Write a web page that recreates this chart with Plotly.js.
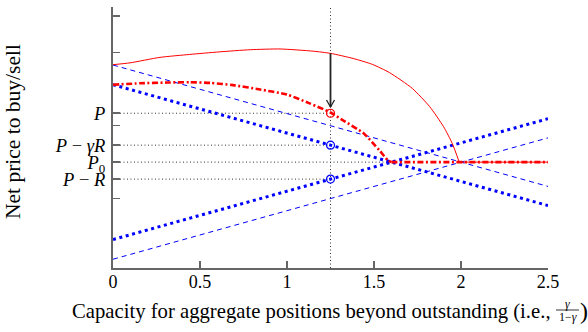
<!DOCTYPE html>
<html>
<head>
<meta charset="utf-8">
<script src="https://cdn.plot.ly/plotly-3.0.1.min.js"></script>
<style>html,body{margin:0;padding:0;background:#fff;}#chart{width:588px;height:332px;}</style>
</head>
<body>
<div id="chart"></div>
<script>
// ---- data (y in units relative to P0) ----
const xLine = [0, 2.5];
const yDashDown = [2.66, -0.665];
const yDashUp = [-2.66, 0.665];
const yDotDown = [2.12, -1.19];
const yDotUp = [-2.12, 1.19];

const xSolid = [0, 0.098, 0.27, 0.44, 0.61, 0.79, 0.96, 1.15, 1.25, 1.38, 1.49, 1.59, 1.72, 1.82, 1.90, 1.95, 1.99];
const ySolid = [2.67, 2.72, 2.87, 2.95, 3.02, 3.08, 3.10, 3.04, 2.98, 2.84, 2.68, 2.45, 2.02, 1.52, 0.97, 0.51, 0.0];
const xSolidFlat = [1.99, 2.5];
const ySolidFlat = [0, 0];

const xDashDot = [0, 0.155, 0.31, 0.44, 0.56, 0.69, 0.845, 1.0, 1.13, 1.25, 1.32, 1.44, 1.53, 1.58, 1.6];
const yDashDot = [2.12, 2.16, 2.18, 2.19, 2.17, 2.11, 1.99, 1.85, 1.61, 1.36, 1.15, 0.79, 0.33, 0.05, 0.0];
const xDashDotFlat = [1.6, 2.5];
const yDashDotFlat = [0, 0];

const xStar = 1.25;
const xCross = 1.6;
const P = 1.34, PgR = 0.465, P0 = 0, PR = -0.465;
const arrowTail = 2.98, arrowHead = 1.51;

const plainTicks = [4, 3, 1, -1];
const labelTicks = [P, PgR, P0, PR];
const labelText = ['<i>P</i>', '<i>P</i> − <i>γR</i>', '<i>P</i><sub>0</sub>', '<i>P</i> − <i>R</i>'];
const xTicks = [0, 0.5, 1, 1.5, 2, 2.5];
const xTickText = ['0', '0.5', '1', '1.5', '2', '2.5'];

const xTitleText = 'Capacity for aggregate positions beyond outstanding (i.e.,';
const yTitleText = 'Net price to buy/sell';

// ---- geometry helpers ----
const W = 588, H = 332, L = 113, R = 40, T = 7, B = 64;
const pw = W - L - R, ph = H - T - B;
const px = v => (v - L) / pw;
const py = v => (H - B - v) / ph;
const ux = 2.5 / pw, uy = 7.15 / ph;

const FONT = 'Liberation Serif';
function fitSize(text, target) {
  const c = document.createElement('canvas').getContext('2d');
  c.font = '100px "' + FONT + '"';
  return 100 * target / c.measureText(text).width;
}
const xTitleSize = fitSize(xTitleText, 479);
const yTitleSize = fitSize(yTitleText, 175);

const guide = {color: '#333', width: 1, dash: '1px,2.5px'};
const dotLine = {color: '#0000ff', width: 3, dash: '3px,3.6px'};
const dashLine = {color: '#0000ff', width: 1, dash: '5px,4px'};
const ddLine = {color: '#ff0000', width: 2.6, dash: '6px,2.5px,2px,2.5px'};

const traces = [
  {x: [xStar, xStar], y: [-2.9, 4.25], mode: 'lines', line: guide},
  {x: [0, xStar], y: [P, P], mode: 'lines', line: guide},
  {x: [0, xStar], y: [PgR, PgR], mode: 'lines', line: guide},
  {x: [0, xStar], y: [PR, PR], mode: 'lines', line: guide},
  {x: [0, xCross], y: [P0, P0], mode: 'lines', line: guide},
  {x: xLine, y: yDashDown, mode: 'lines', line: dashLine},
  {x: xLine, y: yDashUp, mode: 'lines', line: dashLine},
  {x: xLine, y: yDotDown, mode: 'lines', line: dotLine},
  {x: xLine, y: yDotUp, mode: 'lines', line: dotLine},
  {x: xSolid, y: ySolid, mode: 'lines', line: {color: '#ff0000', width: 1, shape: 'spline', smoothing: 0.6}},
  {x: xSolidFlat, y: ySolidFlat, mode: 'lines', line: {color: '#ff0000', width: 1}},
  {x: xDashDot, y: yDashDot, mode: 'lines', line: Object.assign({shape: 'spline', smoothing: 0.6}, ddLine)},
  {x: xDashDotFlat, y: yDashDotFlat, mode: 'lines', line: ddLine},
  {x: [xStar], y: [P], mode: 'markers', marker: {symbol: 'circle-open', size: 8, color: '#ff0000', line: {width: 1.2}}},
  {x: [xStar, xStar], y: [PgR, PR], mode: 'markers', marker: {symbol: 'circle-open', size: 8, color: '#0000ff', line: {width: 1.2}}}
];

const headPath = 'M ' + (xStar - 4 * ux) + ',' + (arrowHead + 7 * uy) + ' L ' + xStar + ',' + arrowHead +
  ' L ' + (xStar + 4 * ux) + ',' + (arrowHead + 7 * uy);

const layout = {
  width: W, height: H,
  margin: {l: L, r: R, t: T, b: B, pad: 0},
  paper_bgcolor: '#fff', plot_bgcolor: '#fff',
  showlegend: false,
  font: {family: FONT, size: 17, color: '#000'},
  xaxis: {
    range: [0, 2.5], tickvals: xTicks, ticktext: xTickText,
    ticks: 'inside', ticklen: 7, tickwidth: 1.5, tickcolor: '#666',
    showline: true, linecolor: '#666', linewidth: 2,
    showgrid: false, zeroline: false, ticklabelstandoff: -4,
    tickfont: {family: FONT, size: 18, color: '#000'}
  },
  yaxis: {
    range: [-2.9, 4.25],
    tickvals: labelTicks, ticktext: labelText,
    ticks: 'inside', ticklen: 7, tickwidth: 1.5, tickcolor: '#666',
    minor: {tickmode: 'array', tickvals: plainTicks, ticks: 'inside', ticklen: 7, tickwidth: 1.5, tickcolor: '#666', showgrid: false},
    showline: true, linecolor: '#666', linewidth: 2,
    showgrid: false, zeroline: false, ticklabelstandoff: 2,
    tickfont: {family: FONT, size: 18.5, color: '#000'}
  },
  annotations: [
    {xref: 'paper', yref: 'paper', x: px(13), y: py(132), text: yTitleText, textangle: -90,
     showarrow: false, font: {family: FONT, size: yTitleSize, color: '#000'}, xanchor: 'center', yanchor: 'middle'},
    {xref: 'paper', yref: 'paper', x: px(553), y: py(311), text: xTitleText,
     showarrow: false, font: {family: FONT, size: xTitleSize, color: '#000'}, xanchor: 'right', yanchor: 'middle'},
    {xref: 'paper', yref: 'paper', x: px(567.5), y: py(304), text: '<i>γ</i>',
     showarrow: false, font: {family: FONT, size: 12, color: '#000'}, xanchor: 'center', yanchor: 'middle'},
    {xref: 'paper', yref: 'paper', x: px(567.5), y: py(316.5), text: '1−<i>γ</i>',
     showarrow: false, font: {family: FONT, size: 12, color: '#000'}, xanchor: 'center', yanchor: 'middle'},
    {xref: 'paper', yref: 'paper', x: px(584), y: py(311), text: ')',
     showarrow: false, font: {family: FONT, size: 24, color: '#000'}, xanchor: 'center', yanchor: 'middle'}
  ],
  shapes: [
    {type: 'line', xref: 'paper', yref: 'paper', x0: px(556), x1: px(579), y0: py(310), y1: py(310),
     line: {color: '#000', width: 0.8}},
    {type: 'line', xref: 'x', yref: 'y', x0: xStar, x1: xStar, y0: arrowTail, y1: arrowHead,
     line: {color: '#222', width: 1.8}},
    {type: 'path', xref: 'x', yref: 'y', path: headPath, line: {color: '#222', width: 1.3}}
  ]
};

Plotly.newPlot('chart', traces, layout, {displayModeBar: false, staticPlot: true});
</script>
</body>
</html>
